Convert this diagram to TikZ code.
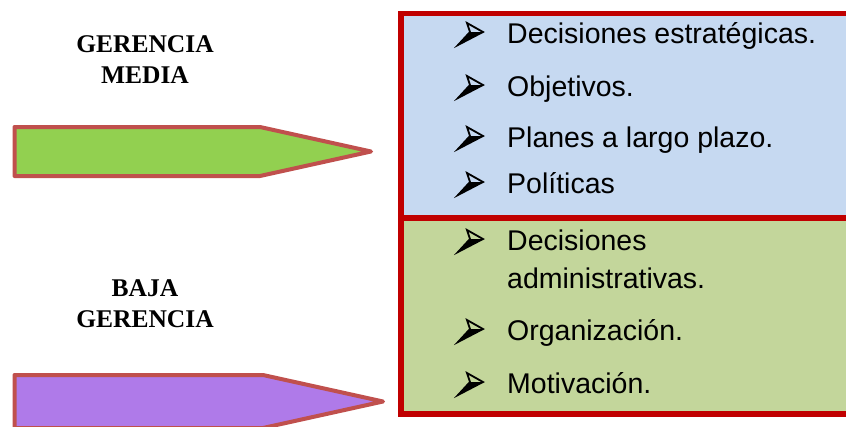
\documentclass[tikz,border=0pt]{standalone}
\usepackage{fontspec}
\setmainfont{Liberation Serif}
\newfontfamily\arialf{Liberation Sans}
\definecolor{topblue}{HTML}{C6D9F1}
\definecolor{botgreen}{HTML}{C3D69B}
\definecolor{boxred}{HTML}{C00000}
\definecolor{arrred}{HTML}{C0504D}
\definecolor{arrgreen}{HTML}{92D050}
\definecolor{arrpurple}{HTML}{AF7AE9}
\begin{document}
\begin{tikzpicture}[x=1pt,y=-1pt,
  boxborder/.style={draw=boxred,line width=5.5pt},
  arrowshape/.style={draw=arrred,line width=4pt,line join=round},
  lefttitle/.style={font=\fontsize{25.5}{30.5}\selectfont\bfseries,align=center,inner sep=0pt,anchor=base},
  item/.style={font=\arialf\fontsize{28.5}{37.5}\selectfont,align=left,inner sep=0pt,anchor=base west},
  bul/.pic={
    \fill[black] (0,0) -- (-13,0) -- (-25,13) -- cycle;
    \draw[black,line width=1.8pt,line join=miter] (0,0) -- (-16,-9) -- (-13,0) -- (-25,13) -- cycle;
  }]
\clip (0,0) rectangle (846,426);
\fill[white] (0,0) rectangle (846,426);
% boxes
\draw[boxborder,fill=topblue] (401,13.5) rectangle (870,218);
\draw[boxborder,fill=botgreen] (401,218) rectangle (870,414);
% arrows
\draw[arrowshape,fill=arrgreen] (14.5,127) -- (260,127) -- (371,151.5) -- (260,176) -- (14.5,176) -- cycle;
\draw[arrowshape,fill=arrpurple] (14.5,375) -- (263,375) -- (383,401.5) -- (263,428) -- (14.5,428) -- cycle;
% left labels (base = last line)
\node[lefttitle] (gm) at (145,83) {GERENCIA\\MEDIA};
\node[lefttitle] (bg) at (145,327) {BAJA\\GERENCIA};
% top items
\node[item] (t1) at (507,43) {Decisiones estratégicas.};
\node[item] (t2) at (507,96) {Objetivos.};
\node[item] (t3) at (507,147) {Planes a largo plazo.};
\node[item] (t4) at (507,193) {Políticas};
\pic at (483,32) {bul};
\pic at (483,85) {bul};
\pic at (483,136) {bul};
\pic at (483,182) {bul};
% bottom items
\node[item] (b1) at (507,288) {Decisiones\\administrativas.};
\node[item] (b2) at (507,340) {Organización.};
\node[item] (b3) at (507,393) {Motivación.};
\pic at (483,239) {bul};
\pic at (483,329) {bul};
\pic at (483,382) {bul};
\end{tikzpicture}
\end{document}
